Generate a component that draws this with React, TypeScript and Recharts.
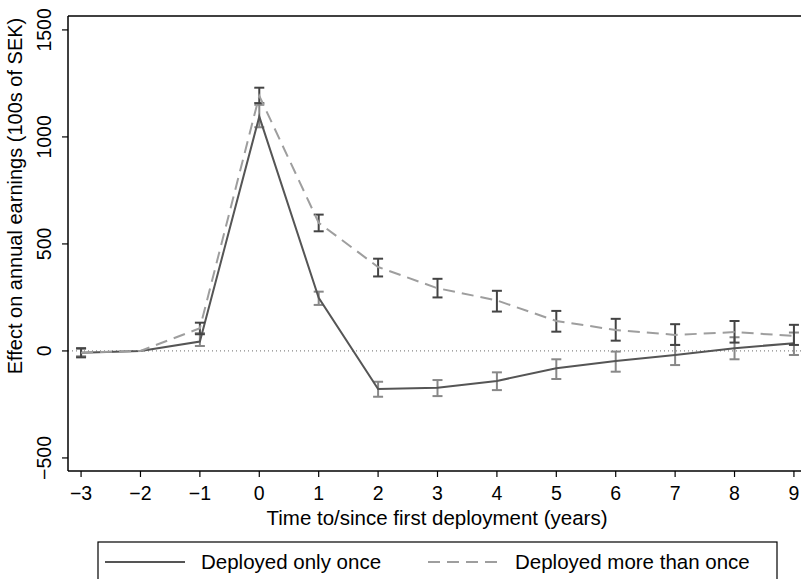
import { CartesianGrid, ErrorBar, Line, LineChart, ReferenceLine, XAxis, YAxis } from "recharts"

// years relative to first deployment
const years = [-3, -2, -1, 0, 1, 2, 3, 4, 5, 6, 7, 8, 9]

// deployed only once
const onceEst = [-8, 0, 44, 1095, 248, -178, -172, -140, -81, -47, -19, 13, 36]
const onceLow = [-25, null, 23, 1045, 215, -214, -211, -183, -131, -97, -66, -39, -19]
const onceHigh = [10, null, 83, 1150, 277, -144, -136, -100, -39, -3, 28, 64, 86]

// deployed more than once
const moreEst = [-8, 0, 106, 1192, 599, 392, 293, 236, 140, 98, 75, 88, 70]
const moreLow = [-30, null, 78, 1158, 559, 348, 250, 184, 90, 48, 28, 39, 28]
const moreHigh = [13, null, 132, 1230, 637, 431, 337, 281, 187, 150, 125, 140, 122]

const xTicks = [-3, -2, -1, 0, 1, 2, 3, 4, 5, 6, 7, 8, 9]
const yTicks = [-500, 0, 500, 1000, 1500]
const xDomain = [-3.22, 9.22]
const yDomain = [-561, 1565]

const err = (v: number, lo: number | null, hi: number | null) =>
  lo == null || hi == null ? null : [v - lo, hi - v]

const data = years.map((t, i) => ({
  t,
  once: onceEst[i],
  onceErr: err(onceEst[i], onceLow[i], onceHigh[i]),
  more: moreEst[i],
  moreErr: err(moreEst[i], moreLow[i], moreHigh[i]),
}))

const FONT = "'Liberation Sans', Arial, sans-serif"
const fmt = (v: number) => (v < 0 ? "\u2212" + Math.abs(v) : String(v))

// eslint-disable-next-line @typescript-eslint/no-explicit-any
const XTick = ({ x, payload }: any) => (
  <text x={x} y={500} textAnchor="middle" fontSize={19.5} fontFamily={FONT} fill="#000">
    {fmt(payload.value)}
  </text>
)

// eslint-disable-next-line @typescript-eslint/no-explicit-any
const YTick = ({ y, payload }: any) => (
  <text
    x={51}
    y={y}
    transform={`rotate(-90 51 ${y})`}
    textAnchor="middle"
    fontSize={19.5}
    fontFamily={FONT}
    fill="#000"
  >
    {fmt(payload.value)}
  </text>
)

export default function App() {
  return (
    <div
      style={{
        position: "fixed",
        left: 0,
        top: 0,
        width: 801,
        height: 579,
        overflow: "hidden",
        background: "#fff",
      }}
    >
      <LineChart
        width={807}
        height={579}
        data={data}
        margin={{ top: 16, right: 0, bottom: 0, left: 0 }}
      >
        <CartesianGrid stroke="none" />
        <XAxis
          dataKey="t"
          type="number"
          domain={xDomain}
          ticks={xTicks}
          allowDataOverflow
          height={108}
          tickSize={6}
          tickLine={{ stroke: "#000", strokeWidth: 1.2 }}
          axisLine={{ stroke: "#000", strokeWidth: 1.5 }}
          tick={<XTick />}
        />
        <YAxis
          type="number"
          domain={yDomain}
          ticks={yTicks}
          allowDataOverflow
          width={68}
          tickSize={6}
          tickLine={{ stroke: "#000", strokeWidth: 1.2 }}
          axisLine={{ stroke: "#000", strokeWidth: 1.5 }}
          tick={<YTick />}
        />
        <ReferenceLine y={yDomain[1]} stroke="#000" strokeWidth={1.5} />
        <ReferenceLine y={0} stroke="#888" strokeWidth={1.2} strokeDasharray="1 3" />
        <Line
          dataKey="once"
          stroke="#555"
          strokeWidth={2}
          dot={false}
          activeDot={false}
          isAnimationActive={false}
        >
          <ErrorBar dataKey="onceErr" direction="y" width={5} stroke="#888" strokeWidth={2} isAnimationActive={false} />
        </Line>
        <Line
          dataKey="more"
          stroke="#9e9e9e"
          strokeWidth={2}
          strokeDasharray="12 7"
          dot={false}
          activeDot={false}
          isAnimationActive={false}
        >
          <ErrorBar dataKey="moreErr" direction="y" width={5} stroke="#444" strokeWidth={2} isAnimationActive={false} />
        </Line>
        <text
          x={22}
          y={196}
          transform="rotate(-90 22 196)"
          textAnchor="middle"
          fontSize={20}
          fontFamily={FONT}
          fill="#000"
        >
          Effect on annual earnings (100s of SEK)
        </text>
        <text x={437} y={525} textAnchor="middle" fontSize={20.5} fontFamily={FONT} fill="#000">
          Time to/since first deployment (years)
        </text>
        <g>
          <rect x={98} y={542} width={679} height={60} fill="#fff" stroke="#000" strokeWidth={1.2} />
          <line x1={105} y1={562} x2={185} y2={562} stroke="#555" strokeWidth={2} />
          <text x={201} y={569} fontSize={20.5} fontFamily={FONT} fill="#000">
            Deployed only once
          </text>
          <line x1={428} y1={562} x2={501} y2={562} stroke="#9e9e9e" strokeWidth={2} strokeDasharray="12 7" />
          <text x={515} y={569} fontSize={20.5} fontFamily={FONT} fill="#000">
            Deployed more than once
          </text>
        </g>
      </LineChart>
    </div>
  )
}
